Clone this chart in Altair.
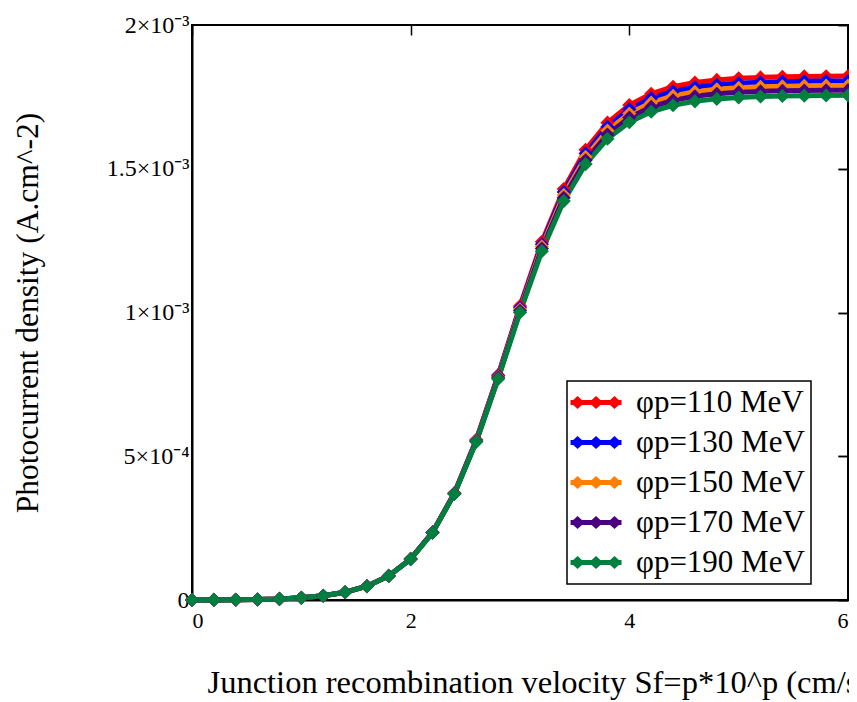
import altair as alt
import pandas as pd

# x: p values (Sf = p*10^p)
p_values = [0.0, 0.2, 0.4, 0.6, 0.8, 1.0, 1.2, 1.4, 1.6, 1.8, 2.0, 2.2, 2.4, 2.6, 2.8,
            3.0, 3.2, 3.4, 3.6, 3.8, 4.0, 4.2, 4.4, 4.6, 4.8, 5.0, 5.2, 5.4, 5.6, 5.8, 6.0]

# photocurrent density in units of 1e-3 A.cm^-2
j_110 = [0, 0.00025, 0.00078, 0.00185, 0.0039, 0.0077, 0.01464, 0.02688, 0.04811, 0.08406,
         0.14298, 0.23555, 0.3722, 0.5574, 0.7824, 1.0222, 1.2458, 1.4296, 1.5662, 1.6603,
         1.7218, 1.7608, 1.7851, 1.7999, 1.8090, 1.8145, 1.8178, 1.8198, 1.8211, 1.8218, 1.8223]
j_130 = [0, 0.00025, 0.00078, 0.00185, 0.0039, 0.0077, 0.01462, 0.02686, 0.04806, 0.08396,
         0.14277, 0.23510, 0.37126, 0.5555, 0.7789, 1.0165, 1.2375, 1.4189, 1.5534, 1.6460,
         1.7066, 1.7449, 1.7687, 1.7833, 1.7922, 1.7976, 1.8009, 1.8029, 1.8041, 1.8048, 1.8053]
j_150 = [0, 0.00025, 0.00078, 0.00185, 0.0039, 0.0077, 0.01462, 0.02684, 0.04804, 0.0839,
         0.14263, 0.23476, 0.37049, 0.55386, 0.7758, 1.0113, 1.2299, 1.4089, 1.5415, 1.6327,
         1.6923, 1.7300, 1.7534, 1.7677, 1.7764, 1.7818, 1.7850, 1.7870, 1.7882, 1.7889, 1.7893]
j_170 = [0, 0.00025, 0.00078, 0.00185, 0.0039, 0.0077, 0.01461, 0.02683, 0.04801, 0.08384,
         0.14249, 0.23443, 0.36972, 0.55221, 0.77265, 1.0061, 1.2222, 1.3989, 1.5296, 1.6193,
         1.6779, 1.7150, 1.7380, 1.7521, 1.7607, 1.7659, 1.7691, 1.7710, 1.7722, 1.7729, 1.7733]
j_190 = [0, 0.00025, 0.00078, 0.00185, 0.0039, 0.0077, 0.0146, 0.0268, 0.048, 0.0838,
         0.1423, 0.234, 0.3688, 0.5502, 0.769, 1.000, 1.2134, 1.3876, 1.5161, 1.6043,
         1.6618, 1.6982, 1.7207, 1.7345, 1.7430, 1.7481, 1.7512, 1.7531, 1.7542, 1.7549, 1.7553]

series_names = ["φp=110 MeV", "φp=130 MeV", "φp=150 MeV", "φp=170 MeV", "φp=190 MeV"]
series_values = [j_110, j_130, j_150, j_170, j_190]
series_colors = ["#ff0000", "#0000ff", "#ff8000", "#4b0082", "#00803f"]

x_ticks = [0, 2, 4, 6]
y_ticks = [0, 0.5, 1.0, 1.5, 2.0]
y_tick_labels = ["0", "5×10⁻⁴", "1×10⁻³", "1.5×10⁻³", "2×10⁻³"]

x_title = "Junction recombination velocity Sf=p*10^p (cm/s)"
y_title = "Photocurrent density (A.cm^-2)"

rows = []
for k, (name, vals) in enumerate(zip(series_names, series_values)):
    for p, j in zip(p_values, vals):
        rows.append({"p": p, "j": j, "series": name, "k": k})
df = pd.DataFrame(rows)

# label expression for y ticks
expr = "'" + y_tick_labels[-1] + "'"
for i in range(len(y_ticks) - 2, -1, -1):
    mid = (y_ticks[i] + y_ticks[i + 1]) / 2
    expr = f"datum.value < {mid} ? '{y_tick_labels[i]}' : ({expr})"

FONT = "Liberation Serif"
x_scale = alt.Scale(domain=[0, 6], nice=False, zero=False)
y_scale = alt.Scale(domain=[0, 2], nice=False, zero=False)
color_scale = alt.Scale(domain=series_names, range=series_colors)

# legend symbol: thick line with three diamonds (unit coords, r = sqrt(size)/2)
legend_path = ("M-1.38,-0.19L2.54,-0.19L2.54,0.19L-1.38,0.19Z "
               "M-1.38,0L-0.84,-0.5L-0.3,0L-0.84,0.5Z "
               "M0.04,0L0.58,-0.5L1.12,0L0.58,0.5Z "
               "M1.46,0L2.0,-0.5L2.54,0L2.0,0.5Z")

base = alt.Chart(df)

lines = base.mark_line(strokeWidth=5).encode(
    x=alt.X("p:Q", scale=x_scale, axis=alt.Axis(
        values=x_ticks, ticks=False, grid=False, domain=True, domainColor="black",
        domainWidth=2, labelFont=FONT, labelFontSize=22, labelPadding=10,
        labelColor="black", title=x_title, titleFont=FONT, titleFontSize=32.5,
        titleFontWeight="normal", titleColor="black", titleX=15, titleY=92,
        titleAlign="left", titleBaseline="alphabetic", titleLimit=2000)),
    y=alt.Y("j:Q", scale=y_scale, axis=alt.Axis(
        values=y_ticks, labelExpr=expr, ticks=False, grid=False, domain=True,
        domainColor="black", domainWidth=2, labelFont=FONT, labelFontSize=24,
        labelPadding=3, labelColor="black", labelLimit=300, title=y_title,
        titleFont=FONT, titleFontSize=31.5, titleFontWeight="normal",
        titleColor="black", titleX=-155, titleY=287.5, titleAngle=270,
        titleAlign="center", titleBaseline="alphabetic", titleLimit=2000)),
    color=alt.Color("series:N", scale=color_scale, legend=None),
    order=alt.Order("p:Q"),
)

points = base.mark_point(shape="diamond", size=200, filled=True, opacity=1).encode(
    x=alt.X("p:Q", scale=x_scale, axis=alt.Axis(
        values=x_ticks, ticks=True, tickSize=10, tickWidth=1.5, tickColor="black",
        offset=-10, domain=False, labels=False, grid=False, title=None)),
    y=alt.Y("j:Q", scale=y_scale, axis=alt.Axis(
        values=y_ticks, ticks=True, tickSize=10, tickWidth=1.5, tickColor="black",
        offset=-10, domain=False, labels=False, grid=False, title=None)),
    color=alt.Color("series:N", scale=color_scale, legend=alt.Legend(
        orient="none", legendX=375, legendY=356, title=None,
        symbolType=legend_path, symbolSize=676, symbolStrokeWidth=0,
        symbolOpacity=1, labelFont=FONT, labelFontSize=31, labelColor="black",
        labelLimit=400, labelOffset=32, rowPadding=8, padding=6,
        strokeColor="black", fillColor="white", cornerRadius=0)),
    order=alt.Order("k:Q"),
)

right_ticks = base.mark_point(opacity=0).encode(
    x=alt.X("p:Q", scale=x_scale, axis=None),
    y=alt.Y("j:Q", scale=y_scale, axis=alt.Axis(
        orient="right", values=y_ticks, ticks=True, tickSize=10, tickWidth=1.5,
        tickColor="black", offset=-10, domain=False, labels=False, grid=False,
        title=None)),
)

chart = alt.layer(lines, points, right_ticks).resolve_axis(
    x="independent", y="independent"
).resolve_legend(
    color="independent"
).properties(
    width=656, height=575,
    autosize=alt.AutoSizeParams(type="none"),
    padding={"left": 184, "top": 17, "right": 1, "bottom": 100},
    background="white",
).configure_view(
    stroke="black", strokeWidth=2
).configure_legend(
    strokeWidth=1.5
)

chart.save("out.html", embed_options={"renderer": "svg", "actions": False})
